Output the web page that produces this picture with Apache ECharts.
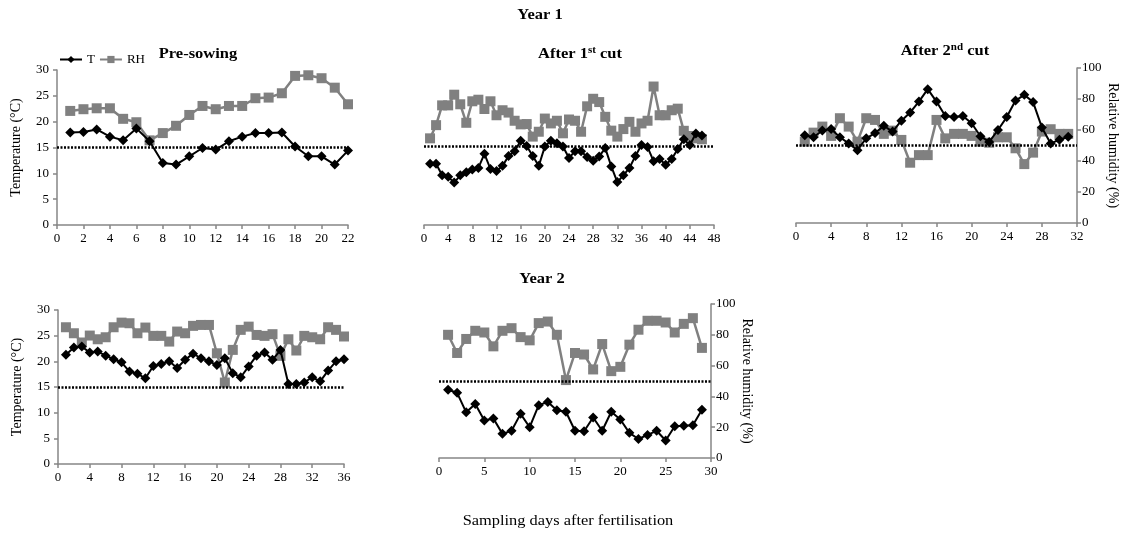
<!DOCTYPE html>
<html>
<head>
<meta charset="utf-8">
<script src="https://cdn.jsdelivr.net/npm/echarts@6/dist/echarts.min.js"></script>
<style>
html,body{margin:0;padding:0;background:#fff;}
#chart{width:1126px;height:533px;}
</style>
</head>
<body>
<div id="chart"></div>
<script>
// ---- Data (sampling day = position in array + 1) ----
const preSowingT = [17.9,18.0,18.5,17.1,16.4,18.7,16.2,12.0,11.7,13.3,14.9,14.6,16.2,17.1,17.8,17.8,17.9,15.2,13.3,13.3,11.7,14.4];
const preSowingRH = [73.6,74.7,75.3,75.3,68.5,66.3,54.6,59.3,64.0,71.0,76.8,74.7,76.8,76.8,81.8,82.2,85.0,96.2,96.6,94.7,88.6,77.9];

const cut1T = [11.7,11.7,9.5,9.2,8.1,9.5,10.1,10.6,10.9,13.6,10.7,10.3,11.3,13.2,14.1,16.1,15.1,13.2,11.3,15.0,16.1,15.6,15.0,12.8,14.1,14.1,13.0,12.3,13.1,14.7,11.2,8.2,9.5,10.9,13.2,15.3,14.9,12.2,12.6,11.5,12.6,14.5,16.4,15.3,17.5,17.1];
const cut1RH = [55.2,63.6,76.2,76.2,83.0,76.9,65.1,78.8,79.8,73.9,78.8,69.9,73.1,71.6,66.4,64.1,64.3,56.3,59.4,67.8,64.7,66.4,58.4,67.2,66.4,59.4,75.6,80.4,78.3,68.9,60.1,56.3,61.1,65.7,59.4,64.7,66.4,88.2,69.9,69.9,73.1,74.1,60.0,56.7,55.2,54.6];

const cut2T = [17.0,16.6,17.9,18.2,16.6,15.4,14.1,16.4,17.4,18.8,17.7,19.8,21.4,23.5,25.9,23.5,20.7,20.5,20.7,19.3,16.8,15.7,18.0,20.5,23.7,24.8,23.4,18.5,15.4,16.1,16.7];
const cut2RH = [52.5,58.3,62.2,56.2,67.6,62.2,52.5,67.6,66.5,57.5,59.6,53.6,38.9,43.8,43.8,66.5,54.6,57.5,57.5,56.2,52.5,51.8,55.3,55.3,48.2,38.0,45.4,59.0,60.5,57.5,57.5];

const year2aT = [21.3,22.7,22.9,21.7,21.9,21.1,20.4,19.8,18.0,17.6,16.7,19.1,19.5,20.0,18.7,20.3,21.5,20.6,20.0,19.3,20.6,17.7,16.9,19.0,21.1,21.7,20.3,22.2,15.6,15.6,15.9,16.9,16.1,18.2,20.0,20.4];
const year2aRH = [88.8,84.9,78.9,83.4,81.0,82.3,88.8,91.8,91.4,84.9,88.6,83.2,83.2,79.5,86.0,84.9,89.7,90.3,90.3,71.9,52.9,74.1,87.1,89.2,83.8,83.2,84.3,70.2,81.0,73.7,83.2,82.3,81.0,88.8,87.1,82.8];

const year2bT = [13.3,12.7,8.9,10.5,7.3,7.7,4.7,5.3,8.6,6.0,10.3,10.9,9.3,9.0,5.3,5.2,7.9,5.3,9.0,7.5,4.9,3.7,4.5,5.3,3.4,6.2,6.3,6.4,9.4];
const year2bRH = [80.0,68.2,77.3,82.6,81.5,72.5,82.6,84.3,78.5,76.4,87.6,88.6,80.0,50.6,68.2,67.2,57.5,74.0,56.4,59.2,73.6,83.3,89.1,89.1,88.0,81.5,87.1,90.8,71.5];

const tempThreshold = 15;
const tempAxis = {min: 0, max: 30, interval: 5};
const rhAxis = {min: 0, max: 100, interval: 20};
const xMax = [22, 48, 32, 36, 30];
const xInterval = [2, 4, 4, 4, 5];

// ---- Layout / style ----
const FONT = '"Liberation Serif","Times New Roman",serif';
const AXIS_COLOR = '#868686';
const grids = [
  {left: 57, top: 70, width: 291, height: 155},
  {left: 424, top: 68, width: 290, height: 157},
  {left: 796, top: 68, width: 281, height: 155},
  {left: 58, top: 310, width: 286, height: 154},
  {left: 439, top: 304, width: 272, height: 154}
];
const showLeft = [true, false, false, true, false];
const showRight = [false, false, true, false, true];
const panels = [
  [preSowingT, preSowingRH],
  [cut1T, cut1RH],
  [cut2T, cut2RH],
  [year2aT, year2aRH],
  [year2bT, year2bRH]
];

const axisLine = {show: true, lineStyle: {color: AXIS_COLOR, width: 1.5}};
const axisTick = {show: true, length: 4, inside: false, lineStyle: {color: AXIS_COLOR, width: 1.5}};
const axisLabel = {color: '#000', fontFamily: FONT, fontSize: 13};

const xAxes = [], yAxes = [], series = [];
panels.forEach((p, i) => {
  xAxes.push({
    type: 'value', gridIndex: i, min: 0, max: xMax[i], interval: xInterval[i],
    axisLine, axisTick, splitLine: {show: false},
    axisLabel: Object.assign({margin: 7}, axisLabel)
  });
  yAxes.push({
    type: 'value', gridIndex: i, position: 'left', show: showLeft[i],
    min: tempAxis.min, max: tempAxis.max, interval: tempAxis.interval,
    axisLine, axisTick, splitLine: {show: false},
    axisLabel: Object.assign({margin: 8}, axisLabel),
    name: 'Temperature (\u00B0C)', nameLocation: 'middle', nameRotate: 90, nameGap: 34,
    nameTextStyle: {color: '#000', fontFamily: FONT, fontSize: 14}
  });
  yAxes.push({
    type: 'value', gridIndex: i, position: 'right', show: showRight[i],
    min: rhAxis.min, max: rhAxis.max, interval: rhAxis.interval,
    axisLine, axisTick, splitLine: {show: false},
    axisLabel: Object.assign({margin: 5}, axisLabel),
    name: 'Relative humidity (%)', nameLocation: 'middle', nameRotate: -90, nameGap: 29,
    nameTextStyle: {color: '#000', fontFamily: FONT, fontSize: 14}
  });
  series.push({
    name: 'RH', type: 'line', xAxisIndex: i, yAxisIndex: 2 * i + 1,
    data: p[1].map((v, k) => [k + 1, v]),
    symbol: 'rect', symbolSize: 10,
    itemStyle: {color: '#808080'},
    lineStyle: {color: '#808080', width: 2.5},
    animation: false, z: 2
  });
  series.push({
    name: 'T', type: 'line', xAxisIndex: i, yAxisIndex: 2 * i,
    data: p[0].map((v, k) => [k + 1, v]),
    symbol: 'diamond', symbolSize: 10,
    itemStyle: {color: '#000'},
    lineStyle: {color: '#000', width: 2},
    animation: false, z: 3,
    markLine: {
      silent: true, symbol: ['none', 'none'], label: {show: false},
      lineStyle: {color: '#000', type: [2, 1.5], width: 2.5},
      data: [{yAxis: tempThreshold}], animation: false
    }
  });
});

const titleFont = 'bold 15px ' + FONT;
const richTitle = {
  a: {fontFamily: FONT, fontSize: 15, fontWeight: 'bold', fill: '#000', lineHeight: 18},
  s: {fontFamily: FONT, fontSize: 10, fontWeight: 'bold', fill: '#000', lineHeight: 10, verticalAlign: 'top'}
};
const option = {
  animation: false,
  backgroundColor: '#fff',
  grid: grids,
  xAxis: xAxes,
  yAxis: yAxes,
  series: series,
  legend: {
    data: ['T', 'RH'], left: 54, top: 48, itemWidth: 22, itemHeight: 9, itemGap: 4,
    textStyle: {fontFamily: FONT, fontSize: 13, color: '#000'}, selectedMode: false
  },
  graphic: [
    {type: 'text', x: 540, y: 15, scaleX: 1.1, style: {text: 'Year 1', font: titleFont, fill: '#000', textAlign: 'center', textVerticalAlign: 'middle'}},
    {type: 'text', x: 542, y: 279, scaleX: 1.1, style: {text: 'Year 2', font: titleFont, fill: '#000', textAlign: 'center', textVerticalAlign: 'middle'}},
    {type: 'text', x: 198, y: 54, scaleX: 1.1, style: {text: 'Pre-sowing', font: titleFont, fill: '#000', textAlign: 'center', textVerticalAlign: 'middle'}},
    {type: 'text', x: 580, y: 54, scaleX: 1.1, style: {
      text: '{a|After 1}{s|st}{a| cut}', textAlign: 'center', textVerticalAlign: 'middle', rich: richTitle}},
    {type: 'text', x: 945, y: 51, scaleX: 1.1, style: {
      text: '{a|After 2}{s|nd}{a| cut}', textAlign: 'center', textVerticalAlign: 'middle', rich: richTitle}},
    {type: 'text', x: 568, y: 521, scaleX: 1.17, style: {text: 'Sampling days after fertilisation', font: '14px ' + FONT, fill: '#000', textAlign: 'center', textVerticalAlign: 'middle'}}
  ]
};

const chart = echarts.init(document.getElementById('chart'), null, {renderer: 'canvas'});
chart.setOption(option);
</script>
</body>
</html>
